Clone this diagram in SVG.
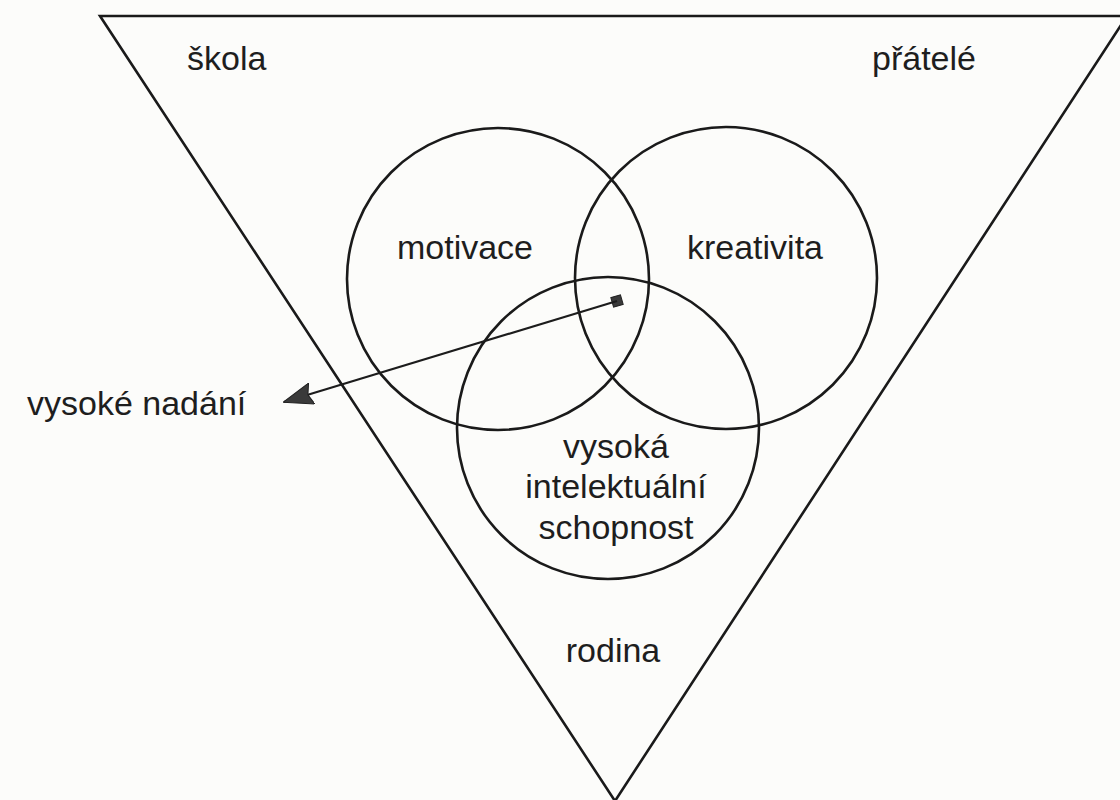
<svg xmlns="http://www.w3.org/2000/svg" width="1120" height="800" viewBox="0 0 1120 800">
  <defs>
    <style>
      .ln { fill: none; stroke: #1a1a1a; stroke-width: 2.6; }
      .tx { font-family: "Liberation Sans", Arial, sans-serif; font-size: 34px; fill: #1e1e1e; }
      .mid { text-anchor: middle; }
    </style>
    <marker id="head" viewBox="0 0 30 22" refX="29" refY="11" markerWidth="30" markerHeight="22" markerUnits="userSpaceOnUse" orient="auto">
      <path d="M30,11 L0,0 L4,11 L0,22 Z" fill="#3a3a3a" stroke="#222" stroke-width="1"/>
    </marker>
  </defs>
  <rect width="1120" height="800" fill="#fcfcfa"/>

  <g id="context-triangle">
    <polygon class="ln" points="100,16 1127,16 615,801"/>
    <text class="tx" x="187" y="70">škola</text>
    <text class="tx" x="872" y="70">přátelé</text>
    <text class="tx mid" x="613" y="662">rodina</text>
  </g>

  <g id="motivace">
    <circle class="ln" cx="498" cy="279" r="151"/>
    <text class="tx mid" x="465" y="259">motivace</text>
  </g>

  <g id="kreativita">
    <circle class="ln" cx="726" cy="278" r="151"/>
    <text class="tx mid" x="755" y="259">kreativita</text>
  </g>

  <g id="intelektualni-schopnost">
    <circle class="ln" cx="608" cy="428" r="151"/>
    <text class="tx mid" x="616" y="458">vysoká</text>
    <text class="tx mid" x="616" y="498">intelektuální</text>
    <text class="tx mid" x="616" y="539">schopnost</text>
  </g>

  <g id="vysoke-nadani">
    <text class="tx" x="27" y="415">vysoké nadání</text>
  </g>

  <g id="connectors">
    <rect x="612" y="296" width="10" height="10" fill="#3a3a3a" stroke="#222" stroke-width="1" transform="rotate(-16 617 301)"/>
    <line x1="617" y1="301" x2="284" y2="402" stroke="#1c1c1c" stroke-width="2.2" marker-end="url(#head)"/>
  </g>
</svg>
